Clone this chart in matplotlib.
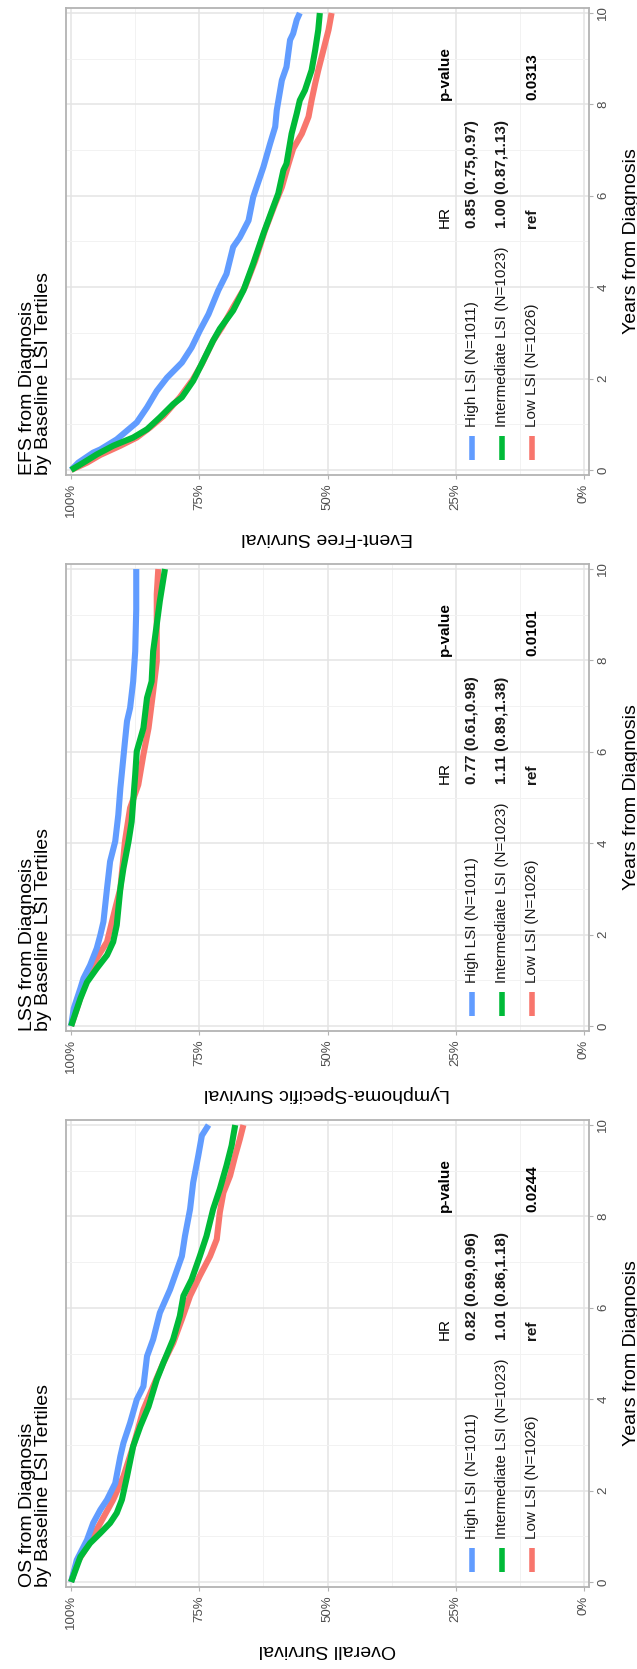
import matplotlib
matplotlib.use("Agg")
import matplotlib.pyplot as plt

plt.rcParams['font.family'] = ['Liberation Sans', 'DejaVu Sans']

# ---- data (years, survival fraction) ----
groups = ["High LSI (N=1011)", "Intermediate LSI (N=1023)", "Low LSI (N=1026)"]
colors = ["#619CFF", "#00BA38", "#F8766D"]

efs_high_t = [0, 0.16, 0.38, 0.45, 0.67, 0.86, 1.04, 1.37, 1.73, 2.02, 2.35, 2.68, 3.05, 3.41, 3.93, 4.29,
              4.88, 5.09, 5.46, 5.97, 6.63, 7.14, 7.51, 7.87, 8.53, 8.82, 9.41, 9.55, 9.85, 10.0]
efs_high_s = [1.0, .986, .957, .943, .911, .891, .872, .852, .833, .813, .784, .765, .749, .732, .713, .697,
              .684, .671, .654, .645, .625, .612, .602, .599, .589, .580, .573, .567, .560, .554]
efs_int_t = [0, 0.16, 0.34, 0.53, 0.71, 0.89, 1.15, 1.44, 1.59, 1.95, 2.24, 2.83, 3.09, 3.49, 3.93, 4.51,
             5.17, 5.75, 6.05, 6.56, 6.70, 7.36, 7.80, 8.09, 8.31, 8.75, 9.19, 9.63, 10.0]
efs_int_s = [1.0, .976, .950, .918, .879, .852, .827, .801, .784, .762, .749, .723, .710, .684, .664, .645,
             .625, .606, .596, .586, .580, .570, .560, .554, .544, .531, .524, .518, .515]
efs_low_t = [0, 0.16, 0.33, 0.53, 0.71, 0.93, 1.18, 1.59, 1.99, 2.32, 2.83, 3.12, 3.56, 4.0, 4.58, 5.24,
             5.83, 6.19, 6.70, 7.03, 7.36, 7.73, 8.09, 8.46, 8.75, 9.19, 9.63, 10.0]
efs_low_s = [1.0, .969, .943, .904, .872, .846, .820, .788, .762, .745, .723, .706, .684, .661, .641, .622,
             .602, .589, .576, .567, .550, .537, .531, .524, .518, .508, .498, .492]

lss_high_t = [0, 0.38, 0.82, 1.04, 1.33, 1.70, 1.99, 2.28, 3.01, 3.60, 4.04, 4.62, 5.20, 6.23, 6.67, 6.96,
              7.54, 8.20, 9.12, 10.0]
lss_high_s = [1.0, .995, .982, .976, .963, .950, .943, .937, .930, .924, .914, .908, .904, .895, .891, .885,
              .879, .875, .873, .873]
lss_int_t = [0, 0.60, 0.96, 1.26, 1.55, 1.84, 2.21, 3.01, 3.45, 4.04, 4.47, 5.50, 6.01, 6.52, 7.18, 7.54,
             8.20, 8.79, 9.30, 10.0]
lss_int_s = [1.0, .982, .969, .950, .930, .918, .911, .904, .898, .888, .882, .875, .872, .859, .852, .843,
             .840, .833, .827, .817]
lss_low_t = [0, 0.82, 1.48, 1.84, 2.57, 3.01, 4.04, 4.77, 5.28, 5.94, 6.52, 7.32, 7.98, 8.79, 9.45, 10.0]
lss_low_s = [1.0, .976, .950, .930, .914, .904, .895, .885, .869, .859, .849, .840, .833, .833, .833, .830]

os_high_t = [0, 0.48, 0.92, 1.29, 1.58, 1.80, 2.16, 2.75, 3.04, 3.48, 3.99, 4.28, 4.94, 5.31, 5.89, 6.40,
             7.13, 7.57, 8.16, 8.74, 9.33, 9.77, 10.0]
os_high_s = [1.0, .989, .969, .957, .943, .930, .914, .904, .898, .885, .872, .859, .852, .840, .827, .807,
             .784, .778, .768, .762, .752, .745, .732]
os_int_t = [0, 0.55, 0.85, 1.07, 1.29, 1.51, 1.80, 2.31, 2.97, 3.41, 3.84, 4.43, 4.80, 5.31, 5.82, 6.26,
            6.62, 7.13, 7.57, 8.16, 8.60, 9.11, 9.55, 10.0]
os_int_s = [1.0, .982, .963, .943, .924, .911, .901, .891, .879, .865, .849, .833, .820, .801, .788, .781,
            .765, .749, .736, .723, .710, .697, .687, .680]
os_low_t = [0, 0.41, 0.77, 1.29, 1.80, 2.31, 2.97, 3.77, 4.28, 4.80, 5.23, 5.75, 6.26, 6.70, 7.13, 7.50,
            8.09, 8.52, 8.89, 9.33, 9.69, 10.0]
os_low_s = [1.0, .989, .969, .943, .918, .898, .879, .859, .840, .820, .801, .784, .768, .749, .729, .716,
            .710, .703, .690, .680, .671, .664]

titles = ["EFS from Diagnosis\nby Baseline LSI Tertiles",
          "LSS from Diagnosis\nby Baseline LSI Tertiles",
          "OS from Diagnosis\nby Baseline LSI Tertiles"]
ylabels = ["Event-Free Survival", "Lymphoma-Specific Survival", "Overall Survival"]
hr_text = [["0.85 (0.75,0.97)", "1.00 (0.87,1.13)", "ref"],
           ["0.77 (0.61,0.98)", "1.11 (0.89,1.38)", "ref"],
           ["0.82 (0.69,0.96)", "1.01 (0.86,1.18)", "ref"]]
p_values = ["0.0313", "0.0101", "0.0244"]

curves = [
    [(efs_high_t, efs_high_s), (efs_int_t, efs_int_s), (efs_low_t, efs_low_s)],
    [(lss_high_t, lss_high_s), (lss_int_t, lss_int_s), (lss_low_t, lss_low_s)],
    [(os_high_t, os_high_s), (os_int_t, os_int_s), (os_low_t, os_low_s)],
]

W, H = 637, 1669
fig = plt.figure(figsize=(W / 100, H / 100), dpi=100)

box_left, box_w, box_h = 66, 523, 467
box_tops = [8, 564, 1120]

row_s = [0.218, 0.160, 0.101]   # legend / table rows (survival coordinate)
head_s = 0.271

for i in range(3):
    top = box_tops[i]
    ax = fig.add_axes([box_left / W, 1 - (top + box_h) / H, box_w / W, box_h / H])
    ax.set_xlim(1.01, -0.01)
    ax.set_ylim(-0.11, 10.11)

    # curves: draw red first, then blue, then green on top
    for g in [2, 0, 1]:
        t, s = curves[i][g]
        ax.plot(s, t, color=colors[g], lw=4.4, solid_joinstyle='round', solid_capstyle='butt', zorder=3)

    ax.set_xticks([0, 0.25, 0.5, 0.75, 1.0])
    ax.set_xticklabels(["0%", "25%", "50%", "75%", "100%"], rotation=90)
    ax.set_xticks([0.125, 0.375, 0.625, 0.875], minor=True)
    ax.yaxis.tick_right()
    ax.set_yticks([0, 2, 4, 6, 8, 10])
    ax.set_yticklabels(["0", "2", "4", "6", "8", "10"], rotation=90, va='center')
    ax.set_yticks([1, 3, 5, 7, 9], minor=True)
    ax.grid(which='major', color='#E4E4E4', lw=1.1, zorder=0)
    ax.grid(which='minor', color='#F2F2F2', lw=0.7, zorder=0)
    ax.set_axisbelow(True)
    ax.tick_params(which='major', length=3, width=0.8, color='#B3B3B3', labelcolor='#4D4D4D',
                   labelsize=9.5, pad=3)
    ax.tick_params(which='minor', length=0)
    for sp in ax.spines.values():
        sp.set_color('#B3B3B3')
        sp.set_linewidth(1.3)

    ax.set_xlabel(ylabels[i], rotation=180, fontsize=14, labelpad=8)
    ax.yaxis.set_label_position('right')
    ax.set_ylabel("Years from Diagnosis", rotation=90, fontsize=14, labelpad=10)

    ax.text(-0.058, 0.0, titles[i], transform=ax.transAxes, rotation=90, rotation_mode='anchor',
            ha='left', va='center', fontsize=14, linespacing=0.95)

    # legend keys and labels
    for g in range(3):
        ax.plot([row_s[g], row_s[g]], [0.22, 0.75], color=colors[g], lw=4, solid_capstyle='butt')
        ax.text(row_s[g], 0.95, groups[g], rotation=90, rotation_mode='anchor', ha='left', va='center',
                fontsize=11, color='#1A1A1A')
        ax.text(row_s[g], 5.3, hr_text[i][g], rotation=90, rotation_mode='anchor', ha='left', va='center',
                fontsize=11, fontweight='bold', color='#1A1A1A')
    ax.text(head_s, 5.3, "HR", rotation=90, rotation_mode='anchor', ha='left', va='center', fontsize=11)
    ax.text(head_s, 8.1, "p-value", rotation=90, rotation_mode='anchor', ha='left', va='center',
            fontsize=11, fontweight='bold')
    ax.text(row_s[2], 8.1, p_values[i], rotation=90, rotation_mode='anchor', ha='left', va='center',
            fontsize=11, fontweight='bold')

fig.savefig("out.png", dpi=100)
